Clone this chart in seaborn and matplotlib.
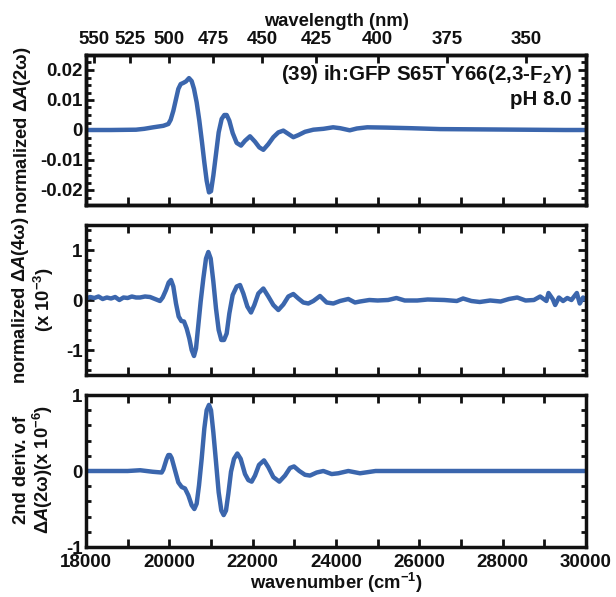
import numpy as np
import pandas as pd
import matplotlib
matplotlib.use("Agg")
import matplotlib.pyplot as plt
from matplotlib.ticker import MultipleLocator, FixedLocator
import seaborn as sns

# ---------------- data ----------------
wn1 = [18000, 18600, 19200, 19400, 19616, 19856, 19976, 20032, 20096, 20160, 20216,
       20272, 20336, 20400, 20472, 20536, 20592, 20656, 20720, 20784, 20840, 20896,
       20952, 21000, 21056, 21120, 21184, 21256, 21320, 21376, 21440, 21520, 21616,
       21720, 21816, 21936, 22056, 22160, 22256, 22376, 22496, 22616, 22736, 22856,
       22976, 23096, 23256, 23456, 23700, 23930, 24100, 24330, 24500, 24750, 25200,
       25800, 26500, 27500, 28500, 29500, 30000]
y1 = [0.0, 0.0, 0.0001, 0.0004, 0.0009, 0.0014, 0.0020, 0.0034, 0.0064, 0.0103, 0.0137,
      0.0153, 0.0157, 0.0162, 0.0173, 0.0163, 0.0137, 0.0092, 0.0031, -0.0041, -0.0108, -0.0169,
      -0.0208, -0.0204, -0.0152, -0.0080, -0.0008, 0.0037, 0.0050, 0.0050, 0.0031, -0.0010, -0.0043,
      -0.0052, -0.0036, -0.0021, -0.0039, -0.0058, -0.0066, -0.0047, -0.0024, -0.0008, -0.0002, -0.0013,
      -0.0024, -0.0017, -0.0006, 0.0001, 0.0004, 0.0009, 0.0006, -0.0001, 0.0005, 0.0009, 0.0008,
      0.0006, 0.0003, 0.0002, 0.0001, 0.0000, 0.0000]

wn2 = [18000, 18100, 18200, 18300, 18400, 18500, 18600, 18700, 18800, 18900, 19000,
       19100, 19200, 19296, 19416, 19536, 19656, 19776, 19840, 19920, 19984, 20040,
       20096, 20160, 20224, 20288, 20352, 20416, 20480, 20536, 20592, 20640, 20696,
       20752, 20816, 20880, 20936, 20992, 21056, 21120, 21184, 21248, 21312, 21376,
       21440, 21520, 21616, 21696, 21776, 21872, 21960, 22040, 22136, 22256, 22376,
       22496, 22616, 22736, 22856, 22976, 23096, 23216, 23336, 23456, 23616, 23776,
       23936, 24096, 24296, 24456, 24576, 24800, 25000, 25250, 25450, 25650, 25950,
       26200, 26600, 26900, 27050, 27250, 27450, 27700, 27950, 28150, 28350, 28550,
       28750, 28900, 29050, 29100, 29200, 29260, 29350, 29450, 29550, 29650, 29780,
       29850, 29930, 30000]
y2 = [0.03, 0.06, 0.04, 0.07, 0.02, 0.05, 0.03, 0.06, 0.00, 0.05, 0.04,
      0.07, 0.05, 0.05, 0.07, 0.06, 0.02, -0.02, 0.05, 0.20, 0.35, 0.40,
      0.27, -0.07, -0.33, -0.42, -0.43, -0.57, -0.77, -1.00, -1.12, -0.97, -0.50,
      -0.03, 0.43, 0.83, 0.96, 0.83, 0.37, -0.17, -0.60, -0.80, -0.80, -0.67,
      -0.27, 0.10, 0.27, 0.30, 0.13, -0.13, -0.25, -0.10, 0.13, 0.23, 0.07,
      -0.10, -0.20, -0.09, 0.07, 0.12, 0.03, -0.05, -0.07, -0.02, 0.08, -0.05,
      -0.07, -0.02, 0.02, -0.05, -0.03, 0.00, -0.01, 0.00, 0.04, -0.01, -0.01,
      0.01, 0.00, -0.02, 0.03, -0.02, -0.04, -0.01, -0.03, 0.02, 0.05, -0.01,
      0.00, 0.07, -0.02, 0.14, 0.02, -0.10, 0.05, -0.02, 0.04, 0.00, 0.14,
      -0.07, 0.05, 0.00]

wn3 = [18000, 19000, 19300, 19600, 19816, 19856, 19936, 19976, 20016, 20056, 20136,
       20216, 20296, 20376, 20456, 20536, 20600, 20656, 20712, 20776, 20840, 20896,
       20952, 21000, 21056, 21120, 21184, 21248, 21304, 21360, 21416, 21480, 21552,
       21632, 21712, 21816, 21896, 21976, 22056, 22152, 22272, 22376, 22496, 22640,
       22776, 22896, 22992, 23120, 23256, 23376, 23536, 23696, 23896, 24056, 24296,
       24576, 24950, 26000, 28000, 30000]
y3 = [0.0, 0.0, 0.01, -0.01, -0.02, 0.02, 0.16, 0.21, 0.21, 0.17, 0.01,
      -0.15, -0.21, -0.23, -0.32, -0.45, -0.50, -0.43, -0.19, 0.16, 0.56, 0.80,
      0.87, 0.80, 0.51, 0.12, -0.28, -0.52, -0.58, -0.52, -0.30, -0.01, 0.16,
      0.23, 0.16, -0.04, -0.12, -0.14, -0.06, 0.08, 0.14, 0.05, -0.08, -0.14,
      -0.06, 0.04, 0.06, 0.00, -0.05, -0.06, -0.02, 0.00, -0.04, -0.03, 0.00,
      -0.03, 0.00, 0.0, 0.0, 0.0]

wl_ticks = [550, 525, 500, 475, 450, 425, 400, 375, 350]

y1_ticks = [0.02, 0.01, 0, -0.01, -0.02]
y1_labels = ["0.02", "0.01", "0", "-0.01", "-0.02"]
y2_ticks = [1, 0, -1]
y2_labels = ["1", "0", "-1"]
y3_ticks = [1, 0, -1]
y3_labels = ["1", "0", "-1"]
x_ticks = [18000, 20000, 22000, 24000, 26000, 28000, 30000]

# ---------------- style ----------------
sns.set_theme(style="ticks")
plt.rcParams["font.family"] = ["Liberation Sans", "DejaVu Sans"]
plt.rcParams["font.weight"] = "bold"
plt.rcParams["mathtext.fontset"] = "custom"
plt.rcParams["mathtext.rm"] = "Liberation Sans:bold"
plt.rcParams["mathtext.it"] = "Liberation Sans:italic:bold"
plt.rcParams["mathtext.bf"] = "Liberation Sans:bold"
plt.rcParams["axes.unicode_minus"] = False

LINE = "#3B66AD"
INK = "#111111"
FS_TICK = 13.5
FS_LAB = 13.2
FS_ANN = 14.8
W, H = 616, 597
fig = plt.figure(figsize=(W / 100, H / 100), dpi=100)


def add_ax(top, bottom):
    return fig.add_axes([86 / W, 1 - bottom / H, 500 / W, (bottom - top) / H])


ax1 = add_ax(55, 205)
ax2 = add_ax(225, 375)
ax3 = add_ax(395, 547)

df1 = pd.DataFrame({"wn": wn1, "v": y1})
df2 = pd.DataFrame({"wn": wn2, "v": y2})
df3 = pd.DataFrame({"wn": wn3, "v": y3})

for ax, df in [(ax1, df1), (ax2, df2), (ax3, df3)]:
    sns.lineplot(data=df, x="wn", y="v", ax=ax, color=LINE, lw=3.2,
                 estimator=None, sort=False)
    ax.lines[-1].set_solid_joinstyle("round")
    ax.set_xlim(18000, 30000)
    ax.set_xlabel("")
    ax.set_ylabel("")
    for s in ax.spines.values():
        s.set_linewidth(2.5)
        s.set_color(INK)
        s.set_visible(True)
    ax.xaxis.set_major_locator(FixedLocator(x_ticks))
    ax.xaxis.set_minor_locator(MultipleLocator(1000))
    ax.tick_params(which="both", direction="in", top=True, bottom=True,
                   left=True, right=True, width=2, color=INK,
                   labelsize=FS_TICK, labelcolor=INK)
    ax.tick_params(which="major", length=6)
    ax.tick_params(which="minor", length=6, axis="x")
    ax.tick_params(which="minor", length=3.5, axis="y")
    ax.tick_params(axis="y", pad=2.5)
    ax.tick_params(axis="x", pad=5)
    if ax is not ax3:
        ax.tick_params(axis="x", labelbottom=False)

ax1.set_ylim(-0.025, 0.025)
ax1.set_yticks(y1_ticks, y1_labels)
ax1.yaxis.set_minor_locator(MultipleLocator(0.0025))
ax1.tick_params(axis="x", which="both", top=False)

ax2.set_ylim(-1.5, 1.5)
ax2.set_yticks(y2_ticks, y2_labels)
ax2.yaxis.set_minor_locator(MultipleLocator(0.2))

ax3.set_ylim(-1, 1)
ax3.set_yticks(y3_ticks, y3_labels)
ax3.yaxis.set_minor_locator(MultipleLocator(0.2))
ax3.set_xticks(x_ticks, [str(t) for t in x_ticks])

for lab in ax1.get_yticklabels() + ax2.get_yticklabels() + ax3.get_yticklabels() + ax3.get_xticklabels():
    lab.set_fontweight("bold")

# top wavelength axis
axT = ax1.twiny()
axT.set_xlim(ax1.get_xlim())
axT.set_xticks([1e7 / w for w in wl_ticks], [str(w) for w in wl_ticks])
axT.xaxis.set_minor_locator(FixedLocator([]))
axT.tick_params(axis="x", which="major", direction="in", length=6, width=2,
                color=INK, labelsize=FS_TICK, pad=5, labelcolor=INK)
for lab in axT.get_xticklabels():
    lab.set_fontweight("bold")
for s in axT.spines.values():
    s.set_linewidth(2.5)
    s.set_color(INK)
axT.set_xlabel("wavelength (nm)", fontsize=FS_LAB, fontweight="bold", labelpad=4,
               color=INK)

ax3.set_xlabel("wavenumber (cm$^{-1}$)", fontsize=FS_LAB, fontweight="bold",
               labelpad=0, color=INK)

# annotation
ax1.text(0.972, 0.868, "(39) ih:GFP S65T Y66(2,3-F$_{2}$Y)", transform=ax1.transAxes,
         ha="right", va="center", fontsize=FS_ANN, fontweight="bold", color=INK)
ax1.text(0.972, 0.705, "pH 8.0", transform=ax1.transAxes,
         ha="right", va="center", fontsize=FS_ANN, fontweight="bold", color=INK)

# y labels
fig.text(23 / W, 1 - 130 / H, "normalized Δ$\\mathit{A}$(2ω)", rotation=90,
         ha="center", va="center", fontsize=FS_LAB, fontweight="bold", color=INK)
fig.text(33 / W, 1 - 300 / H, "normalized Δ$\\mathit{A}$(4ω)\n(x 10$^{-3}$)", rotation=90,
         ha="center", va="center", fontsize=FS_LAB, fontweight="bold", color=INK,
         multialignment="center", linespacing=1.1)
fig.text(34 / W, 1 - 470 / H, "2nd deriv. of\nΔ$\\mathit{A}$(2ω)(x 10$^{-6}$)", rotation=90,
         ha="center", va="center", fontsize=FS_LAB, fontweight="bold", color=INK,
         multialignment="center", linespacing=1.05)

fig.savefig("out.png", dpi=100)
